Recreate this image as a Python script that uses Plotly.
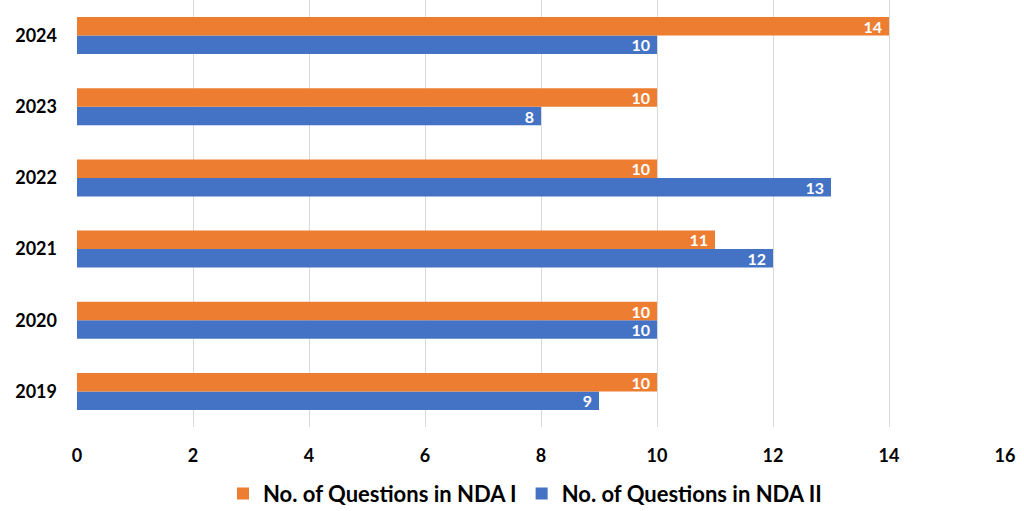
import plotly.graph_objects as go

years = ["2019", "2020", "2021", "2022", "2023", "2024"]
nda1 = [10, 10, 11, 10, 10, 14]
nda2 = [9, 10, 12, 13, 8, 10]
x_ticks = [0, 2, 4, 6, 8, 10, 12, 14, 16]

orange = "#ED7D31"
blue = "#4472C4"
font_family = "Lato, 'Open Sans', sans-serif"
pad = "\u2005"

fig = go.Figure()
fig.add_trace(go.Bar(
    name="No. of Questions in NDA II", y=years, x=nda2, orientation="h",
    marker=dict(color=blue, line=dict(width=0)),
    text=[str(v) + pad for v in nda2], textposition="inside", insidetextanchor="end",
    textangle=0,
    textfont=dict(color="white", size=16, family=font_family, weight="bold"),
    constraintext="none",
))
fig.add_trace(go.Bar(
    name="No. of Questions in NDA I", y=years, x=nda1, orientation="h",
    marker=dict(color=orange, line=dict(width=0)),
    text=[str(v) + pad for v in nda1], textposition="inside", insidetextanchor="end",
    textangle=0,
    textfont=dict(color="white", size=16, family=font_family, weight="bold"),
    constraintext="none",
))

fig.update_layout(
    width=1024, height=511,
    margin=dict(l=77, r=19, t=0, b=84, autoexpand=False),
    barmode="group", bargap=0.48, bargroupgap=0,
    plot_bgcolor="white", paper_bgcolor="white",
    font=dict(family=font_family, size=17, color="black", weight="bold"),
    legend=dict(orientation="h", xref="container", yref="container",
                x=0.5127, xanchor="center", y=0.034, yanchor="middle",
                traceorder="reversed", font=dict(size=22, weight="bold"),
                itemwidth=30),
    xaxis=dict(range=[0, 16], tickvals=x_ticks, showgrid=True, gridcolor="#D9D9D9",
               gridwidth=1, zeroline=False, showline=False, ticks="",
               tickfont=dict(size=18, weight="bold"), ticklabelstandoff=16,
               automargin=False),
    yaxis=dict(type="category", categoryarray=years, categoryorder="array",
               showgrid=False, zeroline=False, showline=False, ticks="",
               tickfont=dict(size=18, weight="bold"), ticklabelstandoff=19,
               automargin=False),
)

fig.write_html("out.html", config={"displayModeBar": False},
               post_script="document.body.style.margin='0';")
